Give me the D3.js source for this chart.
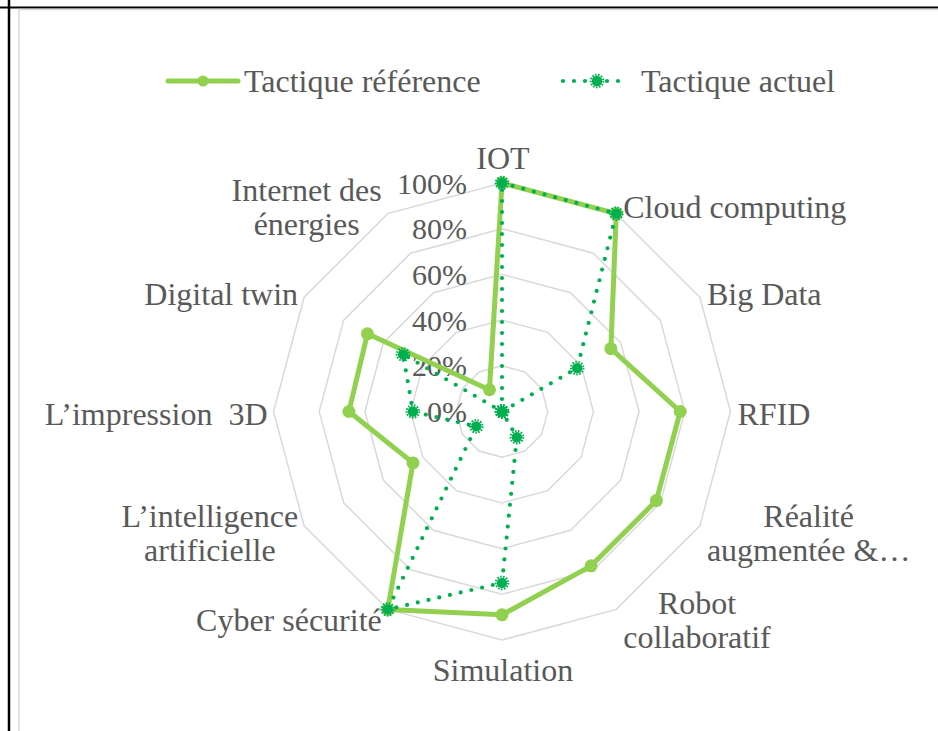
<!DOCTYPE html>
<html>
<head>
<meta charset="utf-8">
<script src="https://cdn.jsdelivr.net/npm/d3@7"></script>
<style>
  body { margin: 0; background: #fff; }
  text { font-family: "Liberation Serif", "Times New Roman", serif; fill: #595959; white-space: pre; }
</style>
</head>
<body>
<svg id="chart"></svg>
<script>
// data
const categories = ["IOT", "Cloud computing", "Big Data", "RFID", "Réalité\naugmentée &…",
  "Robot\ncollaboratif", "Simulation", "Cyber sécurité", "L’intelligence\nartificielle",
  "L’impression  3D", "Digital twin", "Internet des\nénergies"];
const seriesNames = ["Tactique référence", "Tactique actuel"];
const reference = [1.00, 1.00, 0.55, 0.78, 0.78, 0.78, 0.89, 1.00, 0.45, 0.67, 0.68, 0.11];
const actuel = [1.00, 1.00, 0.38, 0.00, 0.00, 0.13, 0.75, 1.00, 0.13, 0.39, 0.50, 0.00];
const tickValues = [0, 0.2, 0.4, 0.6, 0.8, 1];

const width = 938, height = 731;
const cx = 502, cy = 411.5, R = 228.5;
const refColor = "#92D050", actColor = "#00B050", gridColor = "#D9D9D9";
const labelSize = "32px";

let svg = d3.select("#chart").attr("width", width).attr("height", height);

// outer frame (page lines + chart border)
svg.append("line").attr("x1", 0).attr("x2", width).attr("y1", 7.5).attr("y2", 7.5)
  .attr("stroke", "#000").attr("stroke-width", 2);
svg.append("line").attr("x1", 9).attr("x2", 9).attr("y1", 0).attr("y2", height)
  .attr("stroke", "#000").attr("stroke-width", 2.5);
svg.append("path").attr("d", `M19,${height} V9.5 H${width}`)
  .attr("fill", "none").attr("stroke", gridColor).attr("stroke-width", 1.5);

let rScale = d3.scaleLinear().domain([0, 1]).range([0, R]);
let aScale = d3.scaleLinear().domain([0, categories.length]).range([0, 2 * Math.PI]);

let plot = svg.append("g").attr("transform", "translate(" + cx + "," + cy + ")");

// grid rings
plot.append("g").selectAll("path")
  .data(tickValues.filter(t => t > 0))
  .join("path")
  .attr("d", t => d3.lineRadial().angle((d, i) => aScale(i)).radius(rScale(t))
    .curve(d3.curveLinearClosed)(categories))
  .attr("fill", "none")
  .attr("stroke", gridColor)
  .attr("stroke-width", 1.5);

// tick labels
plot.append("g").selectAll("text")
  .data(tickValues)
  .join("text")
  .attr("x", -35)
  .attr("y", t => -rScale(t))
  .attr("dy", "0.35em")
  .attr("text-anchor", "end")
  .style("font-size", "30px")
  .text(t => Math.round(t * 100) + "%");

const px = (v, i) => rScale(v) * Math.sin(aScale(i));
const py = (v, i) => -rScale(v) * Math.cos(aScale(i));

let radial = d3.lineRadial()
  .angle((d, i) => aScale(i))
  .radius(d => rScale(d))
  .curve(d3.curveLinearClosed);

// reference series
plot.append("path").attr("d", radial(reference))
  .attr("fill", "none").attr("stroke", refColor).attr("stroke-width", 5)
  .attr("stroke-linejoin", "round");
plot.append("g").selectAll("circle")
  .data(reference)
  .join("circle")
  .attr("cx", (d, i) => px(d, i))
  .attr("cy", (d, i) => py(d, i))
  .attr("r", 6.5)
  .attr("fill", refColor);

// actual series (dotted)
plot.append("path").attr("d", radial(actuel))
  .attr("fill", "none").attr("stroke", actColor).attr("stroke-width", 4.2)
  .attr("stroke-linecap", "round").attr("stroke-dasharray", "0 11");

function actMarker(sel) {
  sel.append("circle").attr("r", 5.2).attr("fill", actColor);
  sel.append("circle").attr("r", 6.3).attr("fill", "none").attr("stroke", actColor)
    .attr("stroke-width", 2).attr("stroke-dasharray", "1.6 1.4");
}
plot.append("g").selectAll("g")
  .data(actuel)
  .join("g")
  .attr("transform", (d, i) => "translate(" + px(d, i) + "," + py(d, i) + ")")
  .call(actMarker);

// category labels
categories.forEach((c, i) => {
  let a = aScale(i);
  let s = Math.sin(a), co = Math.cos(a);
  let vx = px(1, i), vy = py(1, i);
  let lines = c.split("\n");
  let lh = 34;
  let g = plot.append("g");
  let texts = g.selectAll("text").data(lines).join("text")
    .style("font-size", labelSize)
    .attr("text-anchor", "middle")
    .attr("dy", "0.35em")
    .attr("y", (d, k) => (k - (lines.length - 1) / 2) * lh)
    .text(d => d);
  let w = d3.max(texts.nodes(), n => n.getComputedTextLength());
  let x, y;
  if (Math.abs(s) < 0.01) {
    x = vx + 1;
    y = co > 0 ? vy - 25 : vy + 30;
  } else {
    x = s > 0 ? vx + 7 + w / 2 : vx - 6 - w / 2;
    y = vy - co * 10 + 2;
  }
  g.attr("transform", "translate(" + x + "," + y + ")");
});

// legend
let legend = svg.append("g").attr("transform", "translate(0,81)");
legend.append("line").attr("x1", 168).attr("x2", 238).attr("y1", 0).attr("y2", 0)
  .attr("stroke", refColor).attr("stroke-width", 5).attr("stroke-linecap", "round");
legend.append("circle").attr("cx", 203).attr("cy", 0).attr("r", 5.5).attr("fill", refColor);
legend.append("text").attr("x", 244).attr("dy", "0.35em").style("font-size", labelSize).text(seriesNames[0]);

legend.append("line").attr("x1", 563).attr("x2", 625).attr("y1", 0).attr("y2", 0)
  .attr("stroke", actColor).attr("stroke-width", 4.2).attr("stroke-linecap", "round")
  .attr("stroke-dasharray", "0 11");
legend.append("g").attr("transform", "translate(597,0)").call(actMarker);
legend.append("text").attr("x", 641).attr("dy", "0.35em").style("font-size", labelSize).text(seriesNames[1]);
</script>
</body>
</html>
